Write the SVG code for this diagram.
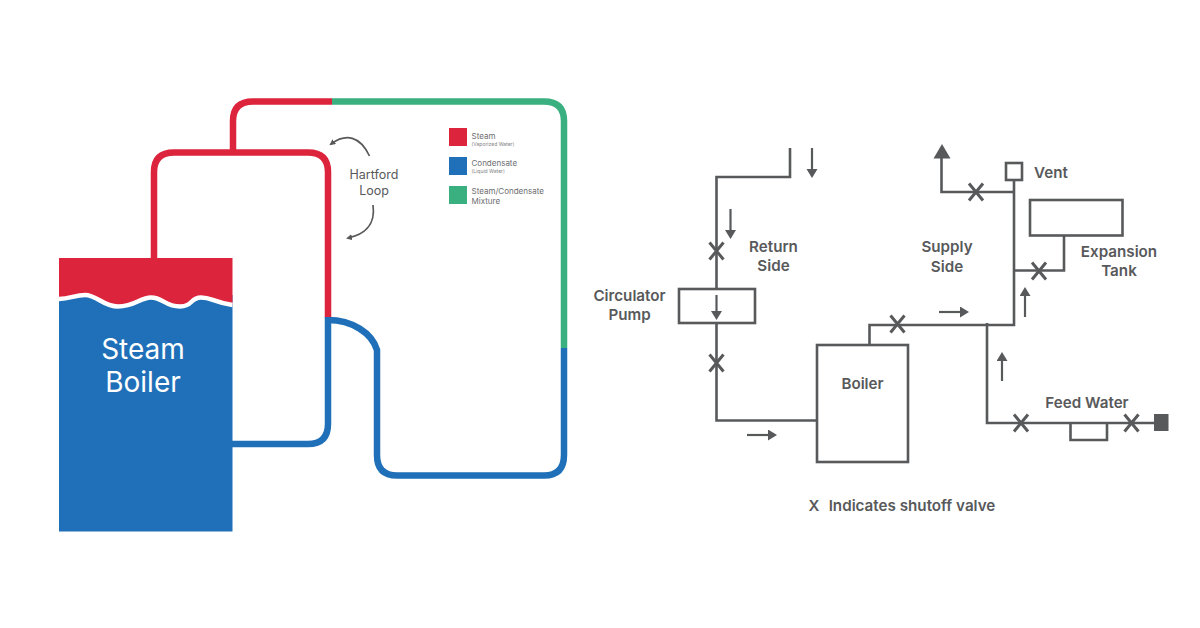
<svg xmlns="http://www.w3.org/2000/svg" width="1200" height="628" viewBox="0 0 1200 628">
<style>
text{font-family:"Inter","Liberation Sans",sans-serif;fill:#58595b;text-anchor:middle}
.b{font-size:15.2px;font-weight:600}
.pipe{fill:none;stroke-width:6.5}
.red{stroke:#dc243c}.blue{stroke:#1f70b8}.green{stroke:#3aaf7f}
.ln{fill:none;stroke:#58595b;stroke-width:2.6}
.vx{fill:none;stroke:#58595b;stroke-width:3}
.ar{fill:none;stroke:#58595b;stroke-width:2.2}
.cv{fill:none;stroke:#58595b;stroke-width:1.7}
.hd{fill:#58595b}
.lg{text-anchor:start;font-size:8px;fill:#6d6e70}
.sm{text-anchor:start;font-size:5px;fill:#808184}
</style>
<defs>
<g id="x"><path class="vx" d="M-7-8.500L7 8.500M7-8.500L-7 8.500"/></g>
<marker id="ah" markerUnits="userSpaceOnUse" markerWidth="12" markerHeight="12" refX="6" refY="5.500" orient="auto"><path class="hd" d="M0 0L9 5.500L0 11z"/></marker>
<marker id="as" markerUnits="userSpaceOnUse" markerWidth="8" markerHeight="8" refX="4" refY="3" orient="auto"><path class="hd" d="M0 0L6 3L0 6z"/></marker>
</defs>
<rect width="1200" height="628" fill="#fff"/>
<g id="connectors">
<path class="pipe red" d="M233 152V121Q233 101.500 253 101.500H332"/>
<path class="pipe green" d="M332 101.500H544Q564 101.500 564 121V348"/>
<path class="pipe blue" d="M564 348V455Q564 475.500 544 475.500H397Q377 475.500 377 455V350C372 333 352 320 328 320"/>
<path class="pipe red" d="M154 262V172Q154 152.500 174 152.500H308Q328 152.500 328 172V318"/>
<path class="pipe blue" d="M328 317V424Q328 444 308 444H232"/>
<path class="ln" d="M790 148V177H716.500V289M716.500 323V420.500H817"/>
<path class="ln" d="M869.500 345V325H1014V180M1014 192H941.500V156M1064 236V270.500H1014M987 323V423H1155"/>
<path class="ln" d="M1070.500 423V440H1107V423"/>
<path class="ar" marker-end="url(#ah)" d="M812 148V175"/>
<path class="ar" marker-end="url(#ah)" d="M730.500 209V236"/>
<path class="ar" marker-end="url(#ah)" d="M716.500 295V317"/>
<path class="ar" marker-end="url(#ah)" d="M747 435H774"/>
<path class="ar" marker-end="url(#ah)" d="M939 312H966"/>
<path class="ar" marker-end="url(#ah)" d="M1025 317V290"/>
<path class="ar" marker-end="url(#ah)" d="M1002 381V355"/>
<path class="cv" marker-end="url(#as)" d="M369.500 156C360 136 346 133 331 144"/>
<path class="cv" marker-end="url(#as)" d="M373 205C376 226 363 235 348 238"/>
</g>
<g id="steam-boiler">
<rect x="59" y="295" width="173.500" height="236.500" fill="#1f70b8"/>
<path fill="#dc243c" d="M59 258H232.500V305C212 302 212 297.500 201 297.500C190 297.500 193 306.500 180 306.500C165 306.500 163 297.500 151 297.500C140 297.500 135 306.500 118 306.500C103 306.500 97 295 85 295C75 295 70 299 59 299z"/>
<path fill="none" stroke="#fff" stroke-width="4.500" d="M59 299C70 299 75 295 85 295C97 295 103 306.500 118 306.500C135 306.500 140 297.500 151 297.500C163 297.500 165 306.500 180 306.500C193 306.500 190 297.500 201 297.500C212 297.500 212 302 232.500 305"/>
<text x="143" y="359" font-size="28" style="fill:#fff">Steam</text>
<text x="143" y="392" font-size="28" style="fill:#fff">Boiler</text>
</g>
<g id="hartford-label">
<text x="374" y="179" font-size="12.500">Hartford</text>
<text x="374" y="195" font-size="12.500">Loop</text>
</g>
<g id="legend">
<rect x="449" y="128" width="18" height="18" fill="#dc243c"/>
<text class="lg" x="471.500" y="139">Steam</text>
<text class="sm" x="471.500" y="146">(Vaporized Water)</text>
<rect x="449" y="157" width="18" height="18" fill="#1f70b8"/>
<text class="lg" x="471.500" y="166">Condensate</text>
<text class="sm" x="471.500" y="173">(Liquid Water)</text>
<rect x="449" y="186" width="18" height="18" fill="#3aaf7f"/>
<text class="lg" x="471.500" y="194">Steam/Condensate</text>
<text class="lg" x="471.500" y="204">Mixture</text>
</g>
<g id="circulator-pump">
<rect class="ln" x="679" y="289" width="76" height="34"/>
<text class="b" x="629.500" y="301">Circulator</text>
<text class="b" x="629.500" y="320">Pump</text>
</g>
<g id="return-side">
<text class="b" x="773.500" y="251.500">Return</text>
<text class="b" x="773.500" y="271">Side</text>
</g>
<g id="boiler">
<rect class="ln" x="817" y="345" width="91" height="117"/>
<text class="b" x="862.500" y="389">Boiler</text>
</g>
<g id="supply-side">
<text class="b" x="947" y="252">Supply</text>
<text class="b" x="947" y="271.500">Side</text>
</g>
<g id="vent">
<rect class="ln" x="1006" y="163" width="16" height="17"/>
<text class="b" x="1051" y="177.500">Vent</text>
</g>
<g id="vent-tip"><path class="hd" d="M942 144L950.500 158.500H933.500z"/></g>
<g id="expansion-tank">
<rect class="ln" x="1030" y="200" width="92.500" height="35.500"/>
<text class="b" x="1119" y="256.500">Expansion</text>
<text class="b" x="1119" y="275.500">Tank</text>
</g>
<g id="feed-water">
<text class="b" x="1087" y="408">Feed Water</text>
<rect class="hd" x="1154" y="414" width="14.500" height="17"/>
</g>
<g id="valves">
<use href="#x" x="716.500" y="251"/>
<use href="#x" x="716.500" y="363"/>
<use href="#x" x="976" y="192"/>
<use href="#x" x="1039" y="271"/>
<use href="#x" x="897.500" y="324"/>
<use href="#x" x="1021" y="423"/>
<use href="#x" x="1131.500" y="423"/>
</g>
<g id="note">
<text class="b" x="814" y="511">X</text>
<text class="b" x="912" y="511">Indicates shutoff valve</text>
</g>
</svg>
